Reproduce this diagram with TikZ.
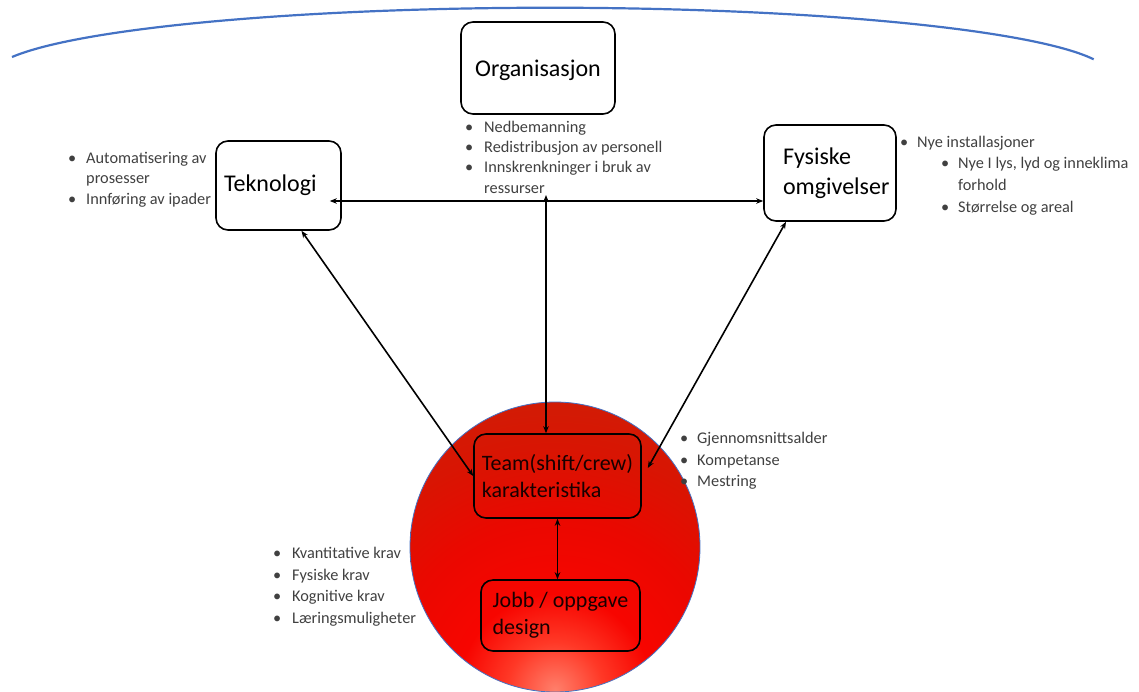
\documentclass[tikz,border=0pt]{standalone}
\usepackage{fontspec}
\setmainfont{Carlito}
\usetikzlibrary{arrows.meta,calc}
\definecolor{arcblue}{HTML}{4472C4}
\definecolor{bgray}{HTML}{404040}
\pgfdeclareradialshading{ballshade}{\pgfpoint{0bp}{0bp}}{rgb(0bp)=(1,0.5,0.42); rgb(4bp)=(1,0.22,0.15); rgb(8bp)=(0.97,0.02,0); rgb(14bp)=(0.92,0.03,0); rgb(20bp)=(0.85,0.08,0.01); rgb(30bp)=(0.78,0.15,0.04); rgb(40bp)=(0.72,0.19,0.05); rgb(100bp)=(0.72,0.19,0.05)}
\tikzset{
  box/.style={draw, line width=1.6pt, rounded corners=12pt, align=left, font=\fontsize{24}{30}\selectfont, inner ysep=0pt},
  redbox/.style={draw, line width=1.6pt, rounded corners=12pt, align=left, font=\fontsize{22}{27}\selectfont, inner sep=0pt, text=black!90!red},
  conn/.style={{Stealth[length=7pt,width=5.5pt]}-{Stealth[length=7pt,width=5.5pt]}, line width=1.6pt},
  btxt/.style={anchor=base west, inner sep=0pt, text=bgray, font=\fontsize{16.3}{19}\selectfont},
}
\newcommand{\bul}{\textbullet}
\begin{document}
\begin{tikzpicture}[x=1pt,y=-1pt]
\useasboundingbox (0,0) rectangle (1139,691);
% arc
\draw[arcblue, line width=2.2pt] (12,57) arc[start angle=164, end angle=14, x radius=560pt, y radius=68pt];
% circle
\begin{scope}
\clip (555,547) circle [radius=145pt];
\shade[shading=ballshade] (555,690) circle [radius=300pt];
\end{scope}
\draw[arcblue, line width=0.8pt] (555,547) circle [radius=145pt];
% boxes
\node[box, inner xsep=0pt, text depth=0pt, minimum width=154pt, minimum height=92pt] (org) at (538,68) {Organisasjon};
\node[box, text width=109pt, inner xsep=8pt, minimum height=89pt] (tek) at (278.5,185.5) {Teknologi};
\node[box, text width=94pt, inner xsep=19pt, minimum height=96pt] (fys) at (830,173) {Fysiske\\omgivelser};
\node[redbox, minimum width=167pt, minimum height=84pt] (team) at (557.5,476) {Team(shift/crew)\\karakteristika};
\node[redbox, minimum width=159pt, minimum height=71pt] (jobb) at (560.5,615.5) {Jobb / oppgave\\design};
% organisasjon bullets
\node[btxt] (ob1) at (465,132) {\bul};
\node[btxt] (o1) at (484,132) {Nedbemanning};
\node[btxt] (ob2) at (465,152) {\bul};
\node[btxt] (o2) at (484,152) {Redistribusjon av personell};
\node[btxt] (ob3) at (465,172) {\bul};
\node[btxt] (o3) at (484,172) {Innskrenkninger i bruk av};
\node[btxt] (o4) at (484,193) {ressurser};
% teknologi bullets
\node[btxt] (tb1) at (68,163) {\bul};
\node[btxt] (t1) at (86,163) {Automatisering av};
\node[btxt] (t2) at (86,183) {prosesser};
\node[btxt] (tb2) at (68,204) {\bul};
\node[btxt] (t3) at (86,204) {Innføring av ipader};
% fysiske bullets
\node[btxt] (fb1) at (900,147) {\bul};
\node[btxt] (f1) at (917,147) {Nye installasjoner};
\node[btxt] (fb2) at (941,168) {\bul};
\node[btxt] (f2) at (958,168) {Nye I lys, lyd og inneklima};
\node[btxt] (f3) at (958,190) {forhold};
\node[btxt] (fb3) at (941,212) {\bul};
\node[btxt] (f4) at (958,212) {Størrelse og areal};
% team bullets
\node[btxt] (mb1) at (680,443) {\bul};
\node[btxt] (m1) at (697,443) {Gjennomsnittsalder};
\node[btxt] (mb2) at (680,465) {\bul};
\node[btxt] (m2) at (697,465) {Kompetanse};
\node[btxt] (mb3) at (680,486) {\bul};
\node[btxt] (m3) at (697,486) {Mestring};
% job bullets
\node[btxt] (jb1) at (273,558) {\bul};
\node[btxt] (j1) at (292,558) {Kvantitative krav};
\node[btxt] (jb2) at (273,580) {\bul};
\node[btxt] (j2) at (292,580) {Fysiske krav};
\node[btxt] (jb3) at (273,601) {\bul};
\node[btxt] (j3) at (292,601) {Kognitive krav};
\node[btxt] (jb4) at (273,623) {\bul};
\node[btxt] (j4) at (292,623) {Læringsmuligheter};
% connectors
\coordinate (hy) at (0,201);
\coordinate (orgend) at (546,195);
\draw[conn] ($(tek.east |- hy)+(-12,0)$) -- (fys.west |- hy);
\draw[conn] (orgend) -- (orgend |- team.north);
\draw[conn] ($(tek.south)+(23,0)$) -- (team.west);
\draw[conn] ($(fys.south)+(-44,0)$) -- ($(team.east)+(6,-8)$);
\draw[conn] (team.south) -- (team.south |- jobb.north);
\end{tikzpicture}
\end{document}
